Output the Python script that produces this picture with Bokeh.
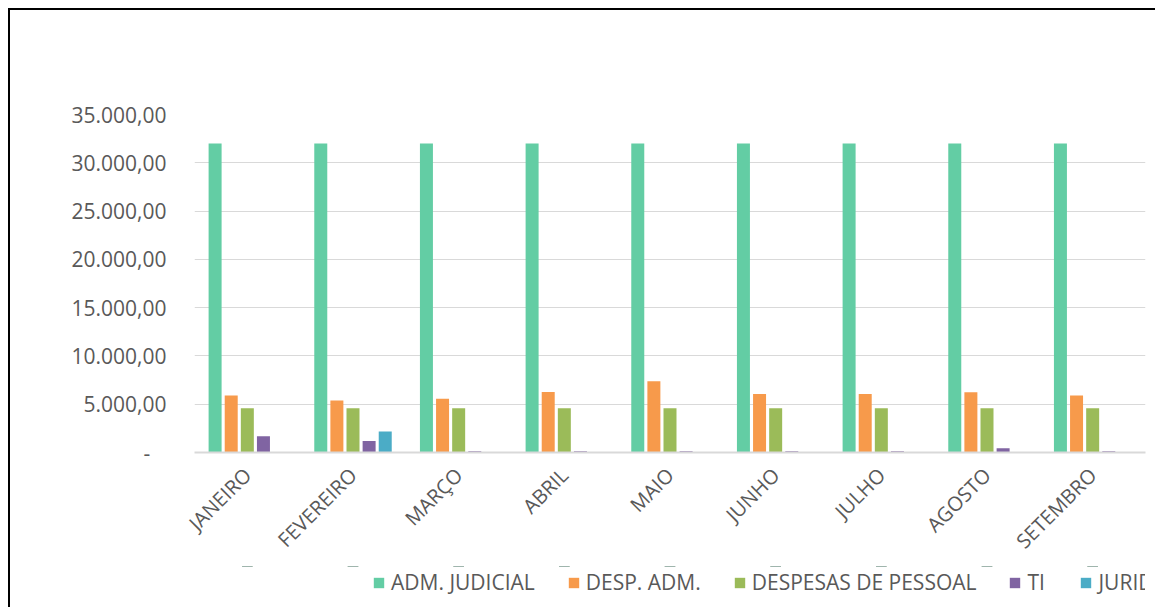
from bokeh.plotting import figure
from bokeh.layouts import column
from bokeh.models import (ColumnDataSource, Range1d, FixedTicker, Legend, LegendItem)
from bokeh.transform import dodge
from bokeh.embed import file_html
from bokeh.resources import INLINE
from math import pi

months = ["JANEIRO", "FEVEREIRO", "MARÇO", "ABRIL", "MAIO", "JUNHO", "JULHO", "AGOSTO", "SETEMBRO"]
adm_judicial = [32000, 32000, 32000, 32000, 32000, 32000, 32000, 32000, 32000]
desp_adm = [5900, 5390, 5570, 6260, 7380, 6050, 6050, 6230, 5900]
despesas_pessoal = [4580, 4580, 4580, 4580, 4580, 4580, 4580, 4580, 4580]
ti = [1680, 1190, 120, 120, 120, 120, 120, 450, 120]
juridico = [0, 2170, 0, 0, 0, 0, 0, 0, 0]

series_names = ["ADM. JUDICIAL", "DESP. ADM.", "DESPESAS DE PESSOAL", "TI", "JURIDICO"]
series_keys = ["adm", "desp", "pessoal", "ti", "jur"]
colors = ["#63CDA4", "#F79A4B", "#9BBB59", "#8064A2", "#4BACC6"]

y_ticks = [0, 5000, 10000, 15000, 20000, 25000, 30000, 35000]
y_tick_labels = ["-\u00a0\u00a0\u00a0", "5.000,00", "10.000,00", "15.000,00", "20.000,00",
                 "25.000,00", "30.000,00", "35.000,00"]

source = ColumnDataSource(data=dict(month=months, adm=adm_judicial, desp=desp_adm,
                                    pessoal=despesas_pessoal, ti=ti, jur=juridico))

FONT = "Open Sans"
TXT = "#595959"

# main chart
p = figure(width=1145, height=556, x_range=months, y_range=Range1d(0, 35000),
           output_backend="svg", toolbar_location=None,
           min_border_left=184, min_border_right=10, min_border_top=104, min_border_bottom=112)
p.outline_line_color = None
p.background_fill_color = "white"
p.border_fill_color = "white"

slot = 0.1525
for i, (key, col) in enumerate(zip(series_keys, colors)):
    p.vbar(x=dodge("month", (i - 2) * slot, range=p.x_range), top=key, width=0.123,
           source=source, fill_color=col, line_color=None)

p.yaxis.ticker = FixedTicker(ticks=y_ticks)
p.yaxis.major_label_overrides = {t: l for t, l in zip(y_ticks, y_tick_labels)}
p.yaxis.axis_line_color = None
p.yaxis.major_tick_line_color = None
p.yaxis.major_tick_out = 0
p.yaxis.major_tick_in = 0
p.yaxis.minor_tick_line_color = None
p.yaxis.major_label_standoff = 28
p.yaxis.major_label_text_font = FONT
p.yaxis.major_label_text_font_size = "21px"
p.yaxis.major_label_text_color = TXT

p.xaxis.axis_line_color = "#D9D9D9"
p.xaxis.axis_line_width = 2
p.xaxis.major_tick_line_color = None
p.xaxis.major_tick_out = 0
p.xaxis.major_tick_in = 0
p.xaxis.minor_tick_line_color = None
p.xaxis.major_label_orientation = pi / 4
p.xaxis.major_label_standoff = 19
p.xaxis.major_label_text_font = FONT
p.xaxis.major_label_text_font_size = "20px"
p.xaxis.major_label_text_color = TXT

p.xgrid.grid_line_color = None
p.ygrid.grid_line_color = "#D9D9D9"
p.ygrid.grid_line_width = 1

# legend strip below the chart (same series, drawn out of view, only the legend shows)
lg = figure(width=1145, height=41, x_range=months, y_range=Range1d(-2, -1),
            x_axis_type=None, y_axis_type=None, output_backend="svg", toolbar_location=None,
            min_border=0)
lg.outline_line_color = None
lg.background_fill_color = "white"
lg.border_fill_color = "white"
lg.xgrid.grid_line_color = None
lg.ygrid.grid_line_color = None

items = []
for key, name, col in zip(series_keys, series_names, colors):
    r = lg.vbar(x="month", top=key, width=0.1, source=source, fill_color=col, line_color=None)
    items.append(LegendItem(label=name, renderers=[r]))

legend = Legend(items=items, orientation="horizontal", location=(178, 11),
                spacing=32, glyph_width=13, glyph_height=13, label_standoff=6,
                padding=0, margin=0, border_line_color=None, background_fill_alpha=0,
                label_text_font=FONT, label_text_font_size="21px", label_text_color=TXT)
lg.add_layout(legend)

layout = column(p, lg, spacing=0,
                styles={"margin-left": "8px", "margin-top": "8px",
                        "border-left": "2px solid black", "border-top": "2px solid black"})

open("out.html", "w").write(file_html(layout, INLINE))
